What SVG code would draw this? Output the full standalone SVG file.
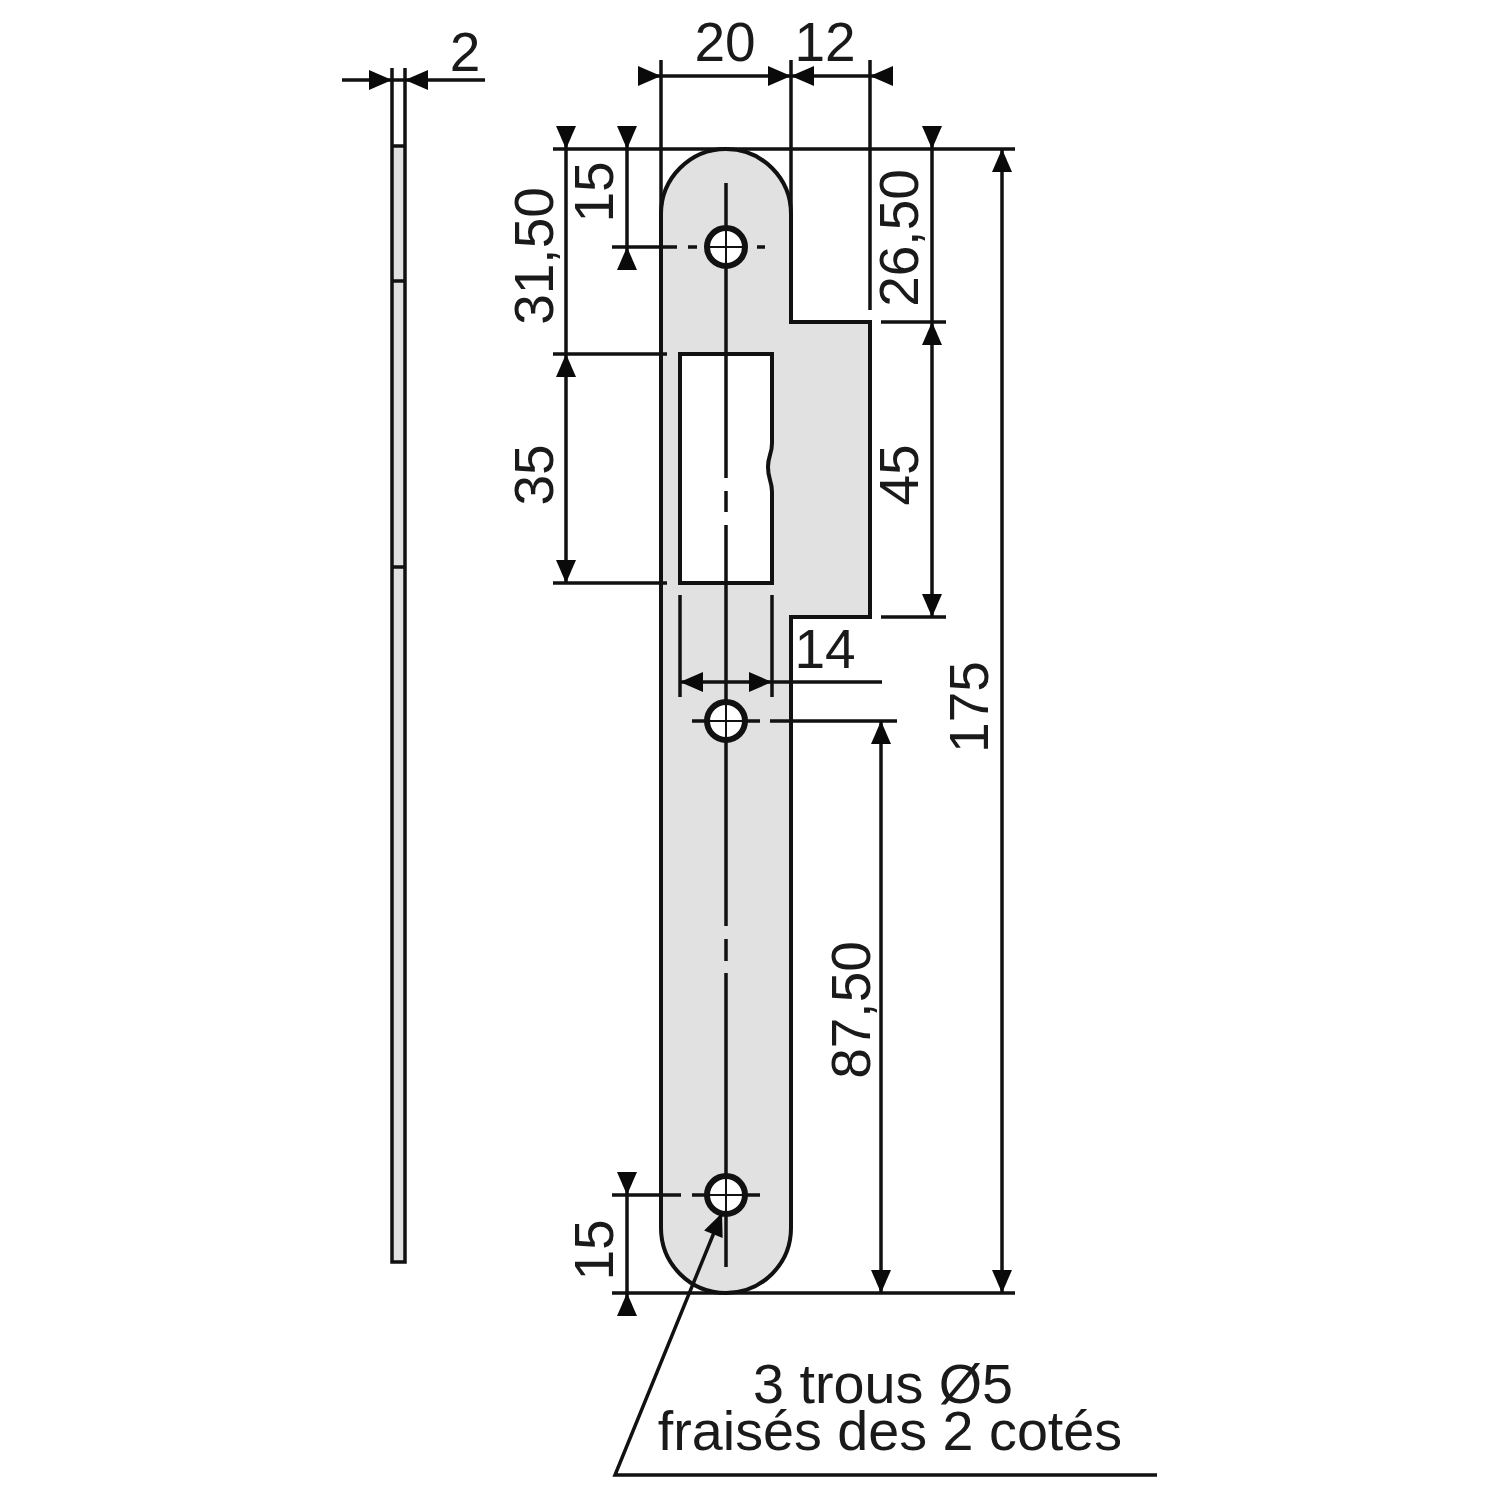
<svg xmlns="http://www.w3.org/2000/svg" width="1500" height="1500" viewBox="0 0 1500 1500">
<style>
.l{fill:none;stroke:#111;stroke-width:3.5}
.o{stroke:#111;stroke-width:4}
.t{stroke:#111;stroke-width:2;fill:none}
.g{fill:#e1e1e1}
.a{fill:#0a0a0a}
text{font-family:"Liberation Sans",Arial,sans-serif;font-size:55px;fill:#1a1a1a;text-anchor:middle}
.n{font-size:55.7px}
</style>
<defs>
<path id="a" class="a" d="M0,0L-23,-10V10Z"/>
<g id="h"><circle r="19" fill="#fff" stroke="#111" stroke-width="6"/><path class="t" d="M-19,0H19M0,-19V19"/></g>
</defs>
<rect width="1500" height="1500" fill="#fff"/>
<g id="side-view">
<rect class="g" x="392" y="147" width="13" height="1115"/>
<path class="l" d="M392,68V1262H405V68M392,146H405M392,281H405M392,567H405"/>
</g>
<g id="plate">
<path class="g" d="M661,214A65,65 0 0 1 791,214V322H870V617H791V1228A65,65 0 0 1 661,1228Z"/>
<path class="l" style="stroke-width:4" d="M661,214A65,65 0 0 1 791,214V322H870V617H791V1228A65,65 0 0 1 661,1228Z"/>
<path fill="#fff" class="o" d="M680,354H772V443C772,455 768,455 768,467C768,480 772,480 772,492V583H680Z"/>
</g>
<g id="centerlines">
<path class="l" d="M726,183V478M726,491V512M726,525V926M726,939V961M726,973V1267"/>
<path class="l" d="M612,247H677M688,247H697M757,247H765M692,721H760M770,721H897M612,1195H681M692,1195H760"/>
</g>
<g id="holes">
<use href="#h" x="726" y="247"/>
<use href="#h" x="726" y="721"/>
<use href="#h" x="726" y="1195"/>
</g>
<g id="connectors">
<path class="l" d="M661,60V214M791,60V322M870,60V310M640,76H890M342,80H485"/>
<path class="l" d="M553,149H1015M612,1293H1015M553,354H667M553,583H667M881,322H946M881,617H946"/>
<path class="l" d="M566,128V583M627,128V268M932,128V617M881,721V1293M1002,149V1293M627,1172V1315"/>
<path class="l" d="M680,595V697M772,595V697M680,682H882"/>
<path class="l" d="M1157,1475H615L722,1213"/>
</g>
<g id="arrowheads">
<use href="#a" transform="translate(392,80)"/>
<use href="#a" transform="translate(405,80) rotate(180)"/>
<use href="#a" transform="translate(661,76)"/>
<use href="#a" transform="translate(791,76)"/>
<use href="#a" transform="translate(791,76) rotate(180)"/>
<use href="#a" transform="translate(870,76) rotate(180)"/>
<use href="#a" transform="translate(566,149) rotate(90)"/>
<use href="#a" transform="translate(566,354) rotate(-90)"/>
<use href="#a" transform="translate(566,583) rotate(90)"/>
<use href="#a" transform="translate(627,149) rotate(90)"/>
<use href="#a" transform="translate(627,247) rotate(-90)"/>
<use href="#a" transform="translate(932,149) rotate(90)"/>
<use href="#a" transform="translate(932,322) rotate(-90)"/>
<use href="#a" transform="translate(932,617) rotate(90)"/>
<use href="#a" transform="translate(1002,149) rotate(-90)"/>
<use href="#a" transform="translate(1002,1293) rotate(90)"/>
<use href="#a" transform="translate(881,721) rotate(-90)"/>
<use href="#a" transform="translate(881,1293) rotate(90)"/>
<use href="#a" transform="translate(680,682) rotate(180)"/>
<use href="#a" transform="translate(772,682)"/>
<use href="#a" transform="translate(627,1195) rotate(90)"/>
<use href="#a" transform="translate(627,1293) rotate(-90)"/>
<use href="#a" transform="translate(722,1213) rotate(-68)"/>
</g>
<g id="labels">
<text x="465" y="71">2</text>
<text x="725" y="61">20</text>
<text x="825" y="61">12</text>
<text x="825" y="668">14</text>
<text transform="translate(553,256) rotate(-90)">31,50</text>
<text transform="translate(613,192) rotate(-90)">15</text>
<text transform="translate(918,238) rotate(-90)">26,50</text>
<text transform="translate(553,475) rotate(-90)">35</text>
<text transform="translate(918,475) rotate(-90)">45</text>
<text transform="translate(870,1010) rotate(-90)">87,50</text>
<text transform="translate(988,707) rotate(-90)">175</text>
<text transform="translate(613,1250) rotate(-90)">15</text>
<text class="n" x="883" y="1403">3 trous Ø5</text>
<text class="n" x="890" y="1450">fraisés des 2 cotés</text>
</g>
</svg>
